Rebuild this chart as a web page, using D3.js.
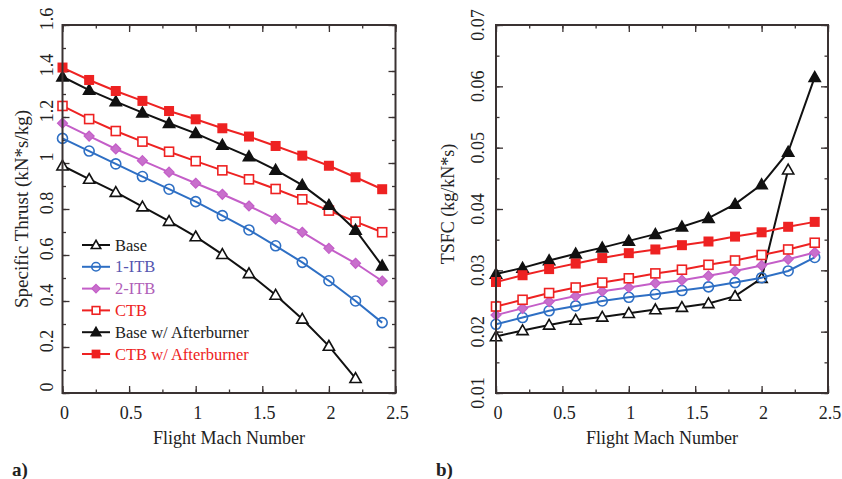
<!DOCTYPE html>
<html>
<head>
<meta charset="utf-8">
<script src="https://cdn.jsdelivr.net/npm/d3@7"></script>
<style>
  html, body { margin: 0; padding: 0; background: #fff; }
  svg { display: block; font-family: "Liberation Serif", "Times New Roman", serif; }
</style>
</head>
<body>
<svg id="chart" width="842" height="479"></svg>
<script>
// Flight Mach numbers at which the cycles were evaluated
const mach = [0, 0.2, 0.4, 0.6, 0.8, 1.0, 1.2, 1.4, 1.6, 1.8, 2.0, 2.2, 2.4];

// Specific thrust (kN*s/kg)
const thrustBase    = [0.988, 0.930, 0.873, 0.810, 0.747, 0.680, 0.603, 0.520, 0.426, 0.322, 0.204, 0.064];
const thrust1ITB    = [1.107, 1.052, 0.996, 0.941, 0.886, 0.832, 0.771, 0.709, 0.640, 0.568, 0.488, 0.400, 0.306];
const thrust2ITB    = [1.173, 1.117, 1.061, 1.010, 0.960, 0.912, 0.864, 0.813, 0.757, 0.699, 0.629, 0.564, 0.487];
const thrustCTB     = [1.248, 1.191, 1.139, 1.093, 1.049, 1.008, 0.968, 0.929, 0.887, 0.842, 0.793, 0.745, 0.699];
const thrustBaseAB  = [1.375, 1.317, 1.267, 1.219, 1.173, 1.129, 1.078, 1.028, 0.970, 0.904, 0.817, 0.709, 0.553];
const thrustCTBAB   = [1.415, 1.361, 1.313, 1.270, 1.226, 1.190, 1.151, 1.115, 1.074, 1.032, 0.988, 0.938, 0.886];

// Thrust specific fuel consumption (kg/kN*s)
const tsfcBase      = [0.0192, 0.0202, 0.0211, 0.0219, 0.0224, 0.0230, 0.0236, 0.0240, 0.0246, 0.0258, 0.0287, 0.0464];
const tsfc1ITB      = [0.0212, 0.0223, 0.0234, 0.0242, 0.0250, 0.0256, 0.0261, 0.0267, 0.0273, 0.0280, 0.0288, 0.0299, 0.0321];
const tsfc2ITB      = [0.0227, 0.0238, 0.0249, 0.0258, 0.0266, 0.0272, 0.0279, 0.0284, 0.0291, 0.0299, 0.0308, 0.0318, 0.0329];
const tsfcCTB       = [0.0241, 0.0252, 0.0263, 0.0272, 0.0280, 0.0287, 0.0295, 0.0301, 0.0309, 0.0316, 0.0325, 0.0334, 0.0345];
const tsfcBaseAB    = [0.0294, 0.0304, 0.0316, 0.0327, 0.0337, 0.0348, 0.0359, 0.0371, 0.0385, 0.0408, 0.0440, 0.0493, 0.0615];
const tsfcCTBAB     = [0.0281, 0.0292, 0.0302, 0.0311, 0.0320, 0.0328, 0.0334, 0.0341, 0.0347, 0.0355, 0.0362, 0.0371, 0.0379];

// Series names and tick labels
const seriesNames = ["Base", "1-ITB", "2-ITB", "CTB", "Base w/ Afterburner", "CTB w/ Afterburner"];
const machTicks   = [0, 0.5, 1, 1.5, 2, 2.5];
const thrustTicks = [0, 0.2, 0.4, 0.6, 0.8, 1, 1.2, 1.4, 1.6];
const tsfcTicks   = [0.01, 0.02, 0.03, 0.04, 0.05, 0.06, 0.07];

// Drawing style per series: line colour, marker shape, marker fill, legend text colour
const styles = [
  { color: "#111111", shape: "tri",     fill: "#ffffff", text: "#222222" },
  { color: "#2e6fc4", shape: "circle",  fill: "none",    text: "#5656b0" },
  { color: "#c45ec8", shape: "diamond", fill: "#c870cc", text: "#b060b8" },
  { color: "#ee2222", shape: "square",  fill: "#ffffff", text: "#ee2222" },
  { color: "#111111", shape: "tri",     fill: "#111111", text: "#222222" },
  { color: "#ee2222", shape: "square",  fill: "#ee2222", text: "#ee2222" }
];

const svg = d3.select("#chart");
const frameColor = "#3a3232";

function drawMarker(g, shape, cx, cy, st, small) {
  const k = small ? 0.85 : 1;
  if (shape === "tri") {
    const s = 5.6 * k;
    g.append("path")
      .attr("d", `M${cx},${cy - s}L${cx + s},${cy + s * 0.75}L${cx - s},${cy + s * 0.75}Z`)
      .attr("fill", st.fill).attr("stroke", st.color).attr("stroke-width", 1.6);
  } else if (shape === "circle") {
    g.append("circle").attr("cx", cx).attr("cy", cy).attr("r", 5 * k)
      .attr("fill", st.fill).attr("stroke", st.color).attr("stroke-width", 1.6);
  } else if (shape === "diamond") {
    const s = 5 * k;
    g.append("path")
      .attr("d", `M${cx},${cy - s}L${cx + s},${cy}L${cx},${cy + s}L${cx - s},${cy}Z`)
      .attr("fill", st.fill).attr("stroke", st.color).attr("stroke-width", 1.2);
  } else {
    const s = (st.fill === "#ffffff" ? 4.5 : 4.2) * k;
    g.append("rect").attr("x", cx - s).attr("y", cy - s).attr("width", 2 * s).attr("height", 2 * s)
      .attr("fill", st.fill).attr("stroke", st.color).attr("stroke-width", 1.6);
  }
}

function panel(opts) {
  const { x0, x1, y0, y1, yDomain, yTicks, yMinorStep, series, yTitle, yTitleX, tagText, tagX, yLabelShift, yLabelX, yFormat } = opts;
  const x = d3.scaleLinear().domain([0, 2.5]).range([x0, x1]);
  const y = d3.scaleLinear().domain(yDomain).range([y1, y0]);
  const g = svg.append("g");

  const xMinor = d3.range(0, 2.5001, 0.25);
  const yMinor = d3.range(yDomain[0], yDomain[1] + yMinorStep / 2, yMinorStep);

  // inward ticks on all four sides
  const axes = [
    [d3.axisBottom(x).tickValues(xMinor).tickSize(-3.5), `translate(0,${y1})`],
    [d3.axisBottom(x).tickValues(machTicks).tickSize(-7), `translate(0,${y1})`],
    [d3.axisTop(x).tickValues(xMinor).tickSize(-3.5), `translate(0,${y0})`],
    [d3.axisTop(x).tickValues(machTicks).tickSize(-7), `translate(0,${y0})`],
    [d3.axisLeft(y).tickValues(yMinor).tickSize(-3.5), `translate(${x0},0)`],
    [d3.axisLeft(y).tickValues(yTicks).tickSize(-7), `translate(${x0},0)`],
    [d3.axisRight(y).tickValues(yMinor).tickSize(-3.5), `translate(${x1},0)`],
    [d3.axisRight(y).tickValues(yTicks).tickSize(-7), `translate(${x1},0)`]
  ];
  axes.forEach(([ax, tr]) => {
    const a = g.append("g").attr("transform", tr).call(ax.tickFormat(""));
    a.select(".domain").remove();
    a.selectAll("line").attr("stroke", frameColor).attr("stroke-width", 1.3);
    a.selectAll("text").remove();
  });

  // tick labels
  g.selectAll(".xl").data(machTicks).enter().append("text")
    .attr("x", d => x(d) + 2).attr("y", y1 + 26)
    .attr("text-anchor", "middle").attr("font-size", 18).attr("fill", "#222")
    .text(d => d);
  g.selectAll(".yl").data(yTicks).enter().append("text")
    .attr("transform", d => `translate(${yLabelX},${y(d) + yLabelShift}) rotate(-90)`)
    .attr("text-anchor", "middle").attr("font-size", 18).attr("fill", "#222")
    .text(yFormat);

  // titles
  g.append("text").attr("x", (x0 + x1) / 2).attr("y", y1 + 51)
    .attr("text-anchor", "middle").attr("font-size", 18).attr("fill", "#222")
    .text("Flight Mach Number");
  g.append("text")
    .attr("transform", `translate(${yTitleX},${opts.yTitleY}) rotate(-90)`)
    .attr("text-anchor", "middle").attr("font-size", opts.yTitleSize).attr("fill", "#222")
    .text(yTitle);
  g.append("text").attr("x", tagX).attr("y", 476)
    .attr("font-size", 19).attr("font-weight", "bold").attr("fill", "#222")
    .text(tagText);

  // series lines and markers
  const line = d3.line().x(d => x(d[0])).y(d => y(d[1]));
  series.forEach((vals, i) => {
    const st = styles[i];
    const pts = vals.map((v, j) => [mach[j], v]);
    g.append("path").attr("d", line(pts)).attr("fill", "none")
      .attr("stroke", st.color).attr("stroke-width", 2);
    pts.forEach(p => drawMarker(g, st.shape, x(p[0]), y(p[1]), st, false));
  });

  // frame
  g.append("rect").attr("x", x0).attr("y", y0).attr("width", x1 - x0).attr("height", y1 - y0)
    .attr("fill", "none").attr("stroke", frameColor).attr("stroke-width", 2);
  return g;
}

const left = panel({
  x0: 62.5, x1: 395.5, y0: 25, y1: 393,
  yDomain: [0, 1.6], yTicks: thrustTicks, yMinorStep: 0.1,
  series: [thrustBase, thrust1ITB, thrust2ITB, thrustCTB, thrustBaseAB, thrustCTBAB],
  yTitle: "Specific Thrust (kN*s/kg)", yTitleX: 28, yTitleY: 209, yTitleSize: 19,
  tagText: "a)", tagX: 12, yLabelShift: -6, yLabelX: 53, yFormat: d => d
});

panel({
  x0: 496, x1: 828, y0: 25, y1: 393,
  yDomain: [0.01, 0.07], yTicks: tsfcTicks, yMinorStep: 0.005,
  series: [tsfcBase, tsfc1ITB, tsfc2ITB, tsfcCTB, tsfcBaseAB, tsfcCTBAB],
  yTitle: "TSFC (kg/kN*s)", yTitleX: 454, yTitleY: 204, yTitleSize: 18,
  tagText: "b)", tagX: 436, yLabelShift: 0, yLabelX: 484, yFormat: d => d3.format(".2f")(d)
});

// legend in the specific thrust panel
const legend = svg.append("g");
seriesNames.forEach((name, i) => {
  const st = styles[i];
  const cy = 245 + i * 21.8;
  legend.append("line").attr("x1", 82).attr("x2", 110).attr("y1", cy).attr("y2", cy)
    .attr("stroke", st.color).attr("stroke-width", 2);
  drawMarker(legend, st.shape, 96, cy, st, true);
  legend.append("text").attr("x", 115).attr("y", cy + 5.5)
    .attr("font-size", 16.5).attr("fill", st.text).text(name);
});
</script>
</body>
</html>
